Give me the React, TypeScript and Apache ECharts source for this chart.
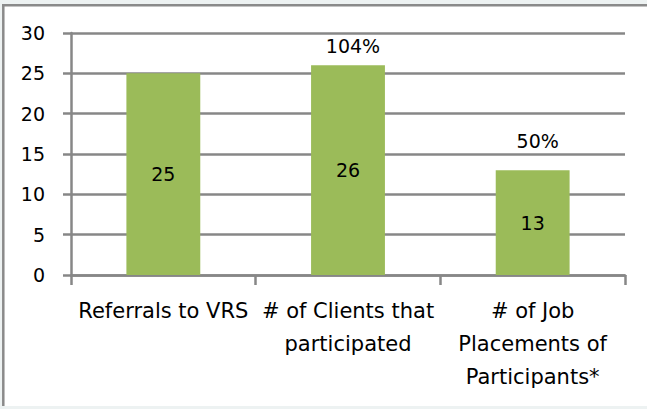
import React, { useEffect, useRef } from "react";
import * as echarts from "echarts";

const categories = [
  "Referrals to VRS",
  "# of Clients that\nparticipated",
  "# of Job\nPlacements of\nParticipants*",
];
const counts = [25, 26, 13];
const percentLabels = ["", "104%", "50%"];
const yTicks = { min: 0, max: 30, interval: 5 };

const FONT = "DejaVu Sans";
const GRID_GRAY = "#878787";

export default function App() {
  const ref = useRef<HTMLDivElement>(null);
  useEffect(() => {
    document.body.style.margin = "0";
    const chart = echarts.init(ref.current!, undefined, { renderer: "svg" });
    chart.setOption({
      animation: false,
      backgroundColor: "#edf2f2",
      graphic: [
        {
          type: "rect",
          shape: { x: 3, y: 5, width: 660, height: 401 },
          style: { fill: "#ffffff" },
          z: -10,
        },
        {
          type: "line",
          shape: { x1: 3.3, y1: 4, x2: 3.3, y2: 406 },
          style: { stroke: "#8a8a8a", lineWidth: 2.5 },
          z: -9,
        },
        {
          type: "line",
          shape: { x1: 2, y1: 5.3, x2: 647, y2: 5.3 },
          style: { stroke: "#8a8a8a", lineWidth: 2.5 },
          z: -9,
        },
      ],
      grid: { left: 71, right: 22, top: 33, bottom: 134, containLabel: false },
      xAxis: {
        type: "category",
        data: categories,
        axisLine: { lineStyle: { color: GRID_GRAY, width: 2.5 } },
        axisTick: { show: true, length: 10, lineStyle: { color: GRID_GRAY, width: 2.5 } },
        axisLabel: {
          color: "#000",
          fontFamily: FONT,
          fontSize: 21,
          lineHeight: 33,
          margin: 19,
          interval: 0,
        },
      },
      yAxis: {
        type: "value",
        min: yTicks.min,
        max: yTicks.max,
        interval: yTicks.interval,
        axisLine: { show: true, lineStyle: { color: GRID_GRAY, width: 2.5 } },
        axisTick: { show: true, length: 8, lineStyle: { color: GRID_GRAY, width: 2.5 } },
        axisLabel: { color: "#000", fontFamily: FONT, fontSize: 19, margin: 26 },
        splitLine: { show: true, lineStyle: { color: GRID_GRAY, width: 2.5 } },
      },
      series: [
        {
          type: "bar",
          data: counts,
          barWidth: "40%",
          itemStyle: { color: "#9bbb59" },
          label: {
            show: true,
            position: "inside",
            color: "#000",
            fontFamily: FONT,
            fontSize: 19,
          },
        },
        {
          type: "scatter",
          data: counts.map((v, i) => ({
            value: v,
            label: { distance: i === 1 ? 10 : 20 },
          })),
          symbolSize: 0,
          itemStyle: { color: "rgba(0,0,0,0)", opacity: 1 },
          label: {
            show: true,
            position: "top",
            offset: [5, 0],
            color: "#000000",
            opacity: 1,
            fontFamily: FONT,
            fontSize: 19,
            formatter: (p: any) => percentLabels[p.dataIndex],
          },
          z: 5,
        },
      ],
    });
    return () => chart.dispose();
  }, []);
  return <div ref={ref} style={{ width: 647, height: 409 }} />;
}
